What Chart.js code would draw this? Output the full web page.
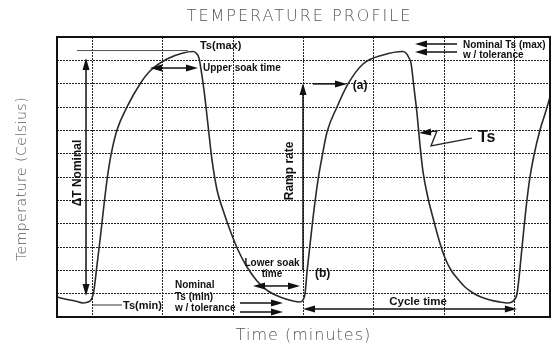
<!DOCTYPE html>
<html>
<head>
<meta charset="utf-8">
<script src="https://cdn.jsdelivr.net/npm/chart.js@4.4.1/dist/chart.umd.min.js"></script>
<style>
html,body{margin:0;padding:0;background:#fff;}
#wrap{width:558px;height:352px;position:relative;}
</style>
</head>
<body>
<div id="wrap"><canvas id="c" width="558" height="352"></canvas></div>
<script>
// ---- data ----
const timeMin = [-0.5,-0.386,-0.244,-0.131,-0.060,-0.031,-0.003,0.025,0.068,0.111,0.167,0.210,0.267,0.352,0.494,0.678,0.820,1.062,1.289,1.431,1.474,1.516,1.530,1.587,1.644,1.701,1.772,1.857,1.956,2.070,2.198,2.340,2.496,2.666,2.851,2.950,2.993,3.021,3.050,3.092,3.135,3.206,3.263,3.334,3.476,3.632,3.845,4.129,4.413,4.455,4.498,4.526,4.569,4.611,4.654,4.697,4.768,4.839,4.924,5.009,5.094,5.179,5.293,5.407,5.520,5.648,5.790,5.889,5.960,6.003,6.031,6.060,6.088,6.130,6.173,6.216,6.273,6.358,6.429,6.5];
const tempC   = [0.857,0.772,0.686,0.600,0.643,0.686,0.814,1.157,2.229,3.300,4.801,5.872,6.944,8.015,9.001,9.987,10.544,11.059,11.316,11.380,11.316,11.101,10.887,9.730,8.230,6.730,5.444,4.586,3.729,2.872,2.143,1.543,1.114,0.857,0.686,0.643,0.729,0.986,1.929,3.086,4.243,5.872,6.858,7.930,9.001,9.987,10.844,11.230,11.380,11.316,11.101,10.887,9.816,8.744,7.372,6.215,5.101,4.243,3.300,2.529,2.015,1.672,1.286,1.029,0.857,0.729,0.643,0.600,0.643,0.772,0.986,1.672,2.529,3.815,5.015,6.001,6.944,8.015,8.701,9.430];
const xGridTicks = [0,1,2,3,4,5,6];
const yGridTicks = [1,2,3,4,5,6,7,8,9,10,11];
const titleText = 'TEMPERATURE PROFILE';
const xTitle = 'Time (minutes)';
const yTitle = 'Temperature (Celsius)';

const points = timeMin.map((t,i)=>({x:t,y:tempC[i]}));

function arrow(ctx,x1,y1,x2,y2,headEnd,headStart,lw){
  ctx.save();
  ctx.strokeStyle='#111';ctx.fillStyle='#111';ctx.lineWidth=lw||1.5;
  const ang=Math.atan2(y2-y1,x2-x1), L=12, W=3.5;
  const sx = headStart? x1+Math.cos(ang)*L*0.8 : x1, sy = headStart? y1+Math.sin(ang)*L*0.8 : y1;
  const ex = headEnd? x2-Math.cos(ang)*L*0.8 : x2, ey = headEnd? y2-Math.sin(ang)*L*0.8 : y2;
  ctx.beginPath();ctx.moveTo(sx,sy);ctx.lineTo(ex,ey);ctx.stroke();
  function head(tx,ty,a){
    ctx.beginPath();
    ctx.moveTo(tx,ty);
    ctx.lineTo(tx-Math.cos(a)*L-Math.sin(a)*W, ty-Math.sin(a)*L+Math.cos(a)*W);
    ctx.lineTo(tx-Math.cos(a)*L+Math.sin(a)*W, ty-Math.sin(a)*L-Math.cos(a)*W);
    ctx.closePath();ctx.fill();
  }
  if(headEnd) head(x2,y2,ang);
  if(headStart) head(x1,y1,ang+Math.PI);
  ctx.restore();
}

const annot = {
  id:'annot',
  afterDatasetsDraw(chart){
    const {ctx, scales:{x,y}, chartArea:a} = chart;
    const X=v=>x.getPixelForValue(v), Y=v=>y.getPixelForValue(v);
    // frame
    ctx.save();
    ctx.strokeStyle='#111';ctx.lineWidth=2;
    ctx.strokeRect(a.left,a.top,a.right-a.left,a.bottom-a.top);
    ctx.restore();

    function text(s,xv,yv,font,align,rot){
      ctx.save();
      ctx.fillStyle='#111';ctx.font=font;ctx.textAlign=align||'left';ctx.textBaseline='middle';
      ctx.translate(X(xv),Y(yv));
      if(rot) ctx.rotate(rot);
      ctx.fillText(s,0,0);
      ctx.restore();
    }
    const B='bold 10px "Liberation Sans", Arial, sans-serif';
    const B11='bold 11px "Liberation Sans", Arial, sans-serif';
    const B12='bold 12px "Liberation Sans", Arial, sans-serif';

    // Ts(max) reference line
    ctx.save();ctx.strokeStyle='#555';ctx.lineWidth=1;
    ctx.beginPath();ctx.moveTo(X(-0.216),Y(11.42));ctx.lineTo(X(1.36),Y(11.42));ctx.stroke();ctx.restore();
    text('Ts(max)',1.53,11.62,B11);

    // Delta T nominal
    arrow(ctx,X(-0.088),Y(0.9),X(-0.088),Y(11.1),true,true,1.5);
    text('\u0394T Nominal',-0.205,6.17,B12,'center',-Math.PI/2);

    // upper soak
    arrow(ctx,X(0.82),Y(10.67),X(1.502),Y(10.67),true,true,1.5);
    text('Upper soak time',1.573,10.67,B);

    // ramp rate
    arrow(ctx,X(2.993),Y(2.01),X(2.993),Y(10.03),true,false,1.5);
    text('Ramp rate',2.808,6.26,B12,'center',-Math.PI/2);
    arrow(ctx,X(3.135),Y(9.99),X(3.618),Y(9.99),true,false,1.5);
    text('(a)',3.70,9.9,B12);
    text('(b)',3.163,1.84,B12);

    // nominal Ts(max)
    arrow(ctx,X(5.18),Y(11.70),X(4.583),Y(11.70),true,false,1.5);
    arrow(ctx,X(5.18),Y(11.36),X(4.583),Y(11.36),true,false,1.5);
    text('Nominal Ts (max)',5.265,11.64,B);
    text('w / tolerance',5.265,11.2,B);

    // Ts zigzag label
    ctx.save();ctx.strokeStyle='#222';ctx.lineWidth=1.3;
    ctx.beginPath();
    ctx.moveTo(X(4.75),Y(7.93));ctx.lineTo(X(4.895),Y(7.97));ctx.lineTo(X(4.81),Y(7.33));ctx.lineTo(X(5.39),Y(7.67));
    ctx.stroke();ctx.restore();
    arrow(ctx,X(4.82),Y(7.93),X(4.64),Y(7.89),true,false,1.3);
    text('Ts',5.478,7.67,'bold 16px "Liberation Sans", Arial, sans-serif');

    // Ts(min)
    ctx.save();ctx.strokeStyle='#333';ctx.lineWidth=1;
    ctx.beginPath();ctx.moveTo(X(0.011),Y(0.514));ctx.lineTo(X(0.423),Y(0.514));ctx.stroke();ctx.restore();
    text('Ts(min)',0.437,0.49,B11);

    // Nominal Ts(min)
    text('Nominal',1.175,1.37,B);
    text('Ts (min)',1.175,0.83,B);
    text('w / tolerance',1.175,0.36,B);
    arrow(ctx,X(2.098),Y(0.6),X(2.709),Y(0.6),true,false,1.5);
    arrow(ctx,X(2.098),Y(0.214),X(2.709),Y(0.214),true,false,1.5);

    // lower soak
    text('Lower soak',2.553,2.31,B,'center');
    text('time',2.553,1.84,B,'center');
    arrow(ctx,X(2.283),Y(1.33),X(2.95),Y(1.33),true,true,1.5);

    // cycle time
    arrow(ctx,X(2.993),Y(0.343),X(6.03),Y(0.343),true,true,1.5);
    text('Cycle time',4.626,0.66,'bold 11.5px "Liberation Sans", Arial, sans-serif','center');
  },
  afterDraw(chart){
    const {ctx, chartArea:a} = chart;
    ctx.save();
    ctx.fillStyle='#555';
    ctx.textAlign='center';ctx.textBaseline='middle';
    ctx.font='300 16px "DejaVu Sans", sans-serif';
    try{ctx.letterSpacing='2px';}catch(e){}
    ctx.fillText(titleText,(a.left+a.right)/2-4,17);
    try{ctx.letterSpacing='1px';}catch(e){}
    ctx.font='300 16px "DejaVu Sans", sans-serif';
    ctx.fillText(xTitle,(a.left+a.right)/2,336);
    try{ctx.letterSpacing='0.5px';}catch(e){}
    ctx.translate(22,(a.top+a.bottom)/2+2);
    ctx.rotate(-Math.PI/2);
    ctx.font='300 14px "DejaVu Sans", sans-serif';
    ctx.fillText(yTitle,0,0);
    ctx.restore();
  }
};

new Chart(document.getElementById('c'),{
  type:'line',
  data:{datasets:[{data:points,borderColor:'#2a2a2a',borderWidth:1.6,pointRadius:0,fill:false,cubicInterpolationMode:'monotone'}]},
  options:{
    responsive:false,animation:false,
    layout:{padding:{left:0,right:8,top:37,bottom:0}},
    plugins:{legend:{display:false},tooltip:{enabled:false},title:{display:false}},
    scales:{
      x:{type:'linear',min:-0.5,max:6.5,
        afterBuildTicks:s=>{s.ticks=xGridTicks.map(v=>({value:v}));},
        afterFit:s=>{s.height=35;},
        ticks:{display:false},
        grid:{color:'#222',lineWidth:1,drawTicks:false},
        border:{display:false,dash:[2,1]}},
      y:{type:'linear',min:0,max:12,
        afterBuildTicks:s=>{s.ticks=yGridTicks.map(v=>({value:v}));},
        afterFit:s=>{s.width=57;},
        ticks:{display:false},
        grid:{color:'#222',lineWidth:1,drawTicks:false},
        border:{display:false,dash:[2,1]}}
    }
  },
  plugins:[annot]
});
</script>
</body>
</html>
